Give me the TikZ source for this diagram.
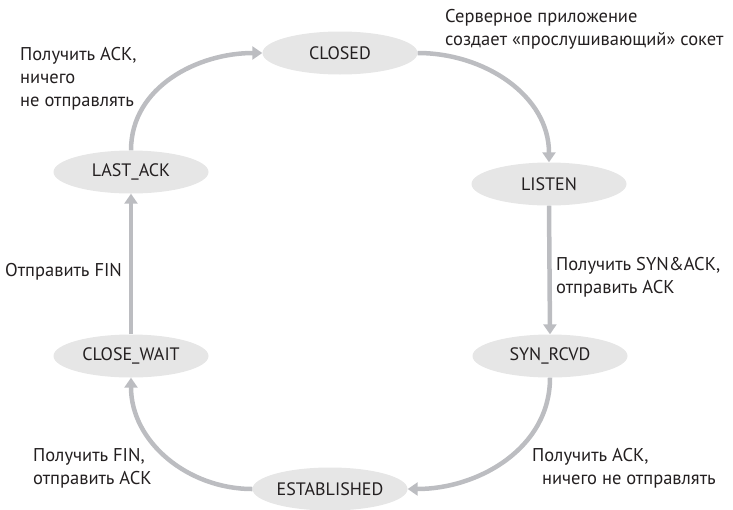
\documentclass[tikz,border=0pt]{standalone}
\usepackage{fontspec}
\setmainfont{PT Sans}
\usetikzlibrary{arrows.meta,shapes.geometric}
\definecolor{statefill}{RGB}{230,230,230}
\definecolor{arrowgray}{RGB}{188,189,193}
\definecolor{inkgray}{RGB}{35,31,32}

\begin{document}
\begin{tikzpicture}[x=1pt, y=-1pt,
    state/.style={ellipse, fill=statefill, minimum width=155pt, minimum height=43pt,
                  inner sep=0pt, text=inkgray, font=\fontsize{18}{20}\selectfont},
    trans/.style={draw=arrowgray, line width=4.5pt, -{Triangle[length=10pt,width=13pt]}},
    lbl/.style={anchor=north west, align=left, inner sep=0pt, text=inkgray,
                font=\fontsize{18.5}{23}\selectfont}]
    \useasboundingbox (0,0) rectangle (733,509);

    % states
    \node[state] (closed)    at (340, 53)  {CLOSED};
    \node[state] (listen)    at (549, 184) {LISTEN};
    \node[state] (synrcvd)   at (550, 356) {SYN\_RCVD};
    \node[state] (estab)     at (330, 489) {ESTABLISHED};
    \node[state] (closewait) at (131, 356) {CLOSE\_WAIT};
    \node[state] (lastack)   at (131, 172) {LAST\_ACK};

    % transitions
    \draw[trans] (lastack.north) to[out=90, in=180] (closed.west);
    \draw[trans] (closed.east) to[out=0, in=90] (listen.north);
    \draw[trans] (listen.south) -- (synrcvd.north);
    \draw[trans] (synrcvd.south) to[out=-90, in=0] (estab.east);
    \draw[trans] (estab.west) to[out=180, in=-90] (closewait.south);
    \draw[trans] (closewait.north) -- (lastack.south);

    % labels
    \node[lbl] (lsrv)  at (445, 9)   {Серверное приложение\\создает «прослушивающий» сокет};
    \node[lbl] (lack1) at (20, 47)   {Получить ACK,\\ничего\\не отправлять};
    \node[lbl] (lfin)  at (5, 263)   {Отправить FIN};
    \node[lbl] (lsyn)  at (556, 257) {Получить SYN\&ACK,\\отправить ACK};
    \node[lbl] (lrfin) at (33, 448)  {Получить FIN,\\отправить ACK};
    \node[lbl] (lack2) at (532, 448) {Получить ACK,\\\ \ ничего не отправлять};
\end{tikzpicture}
\end{document}
